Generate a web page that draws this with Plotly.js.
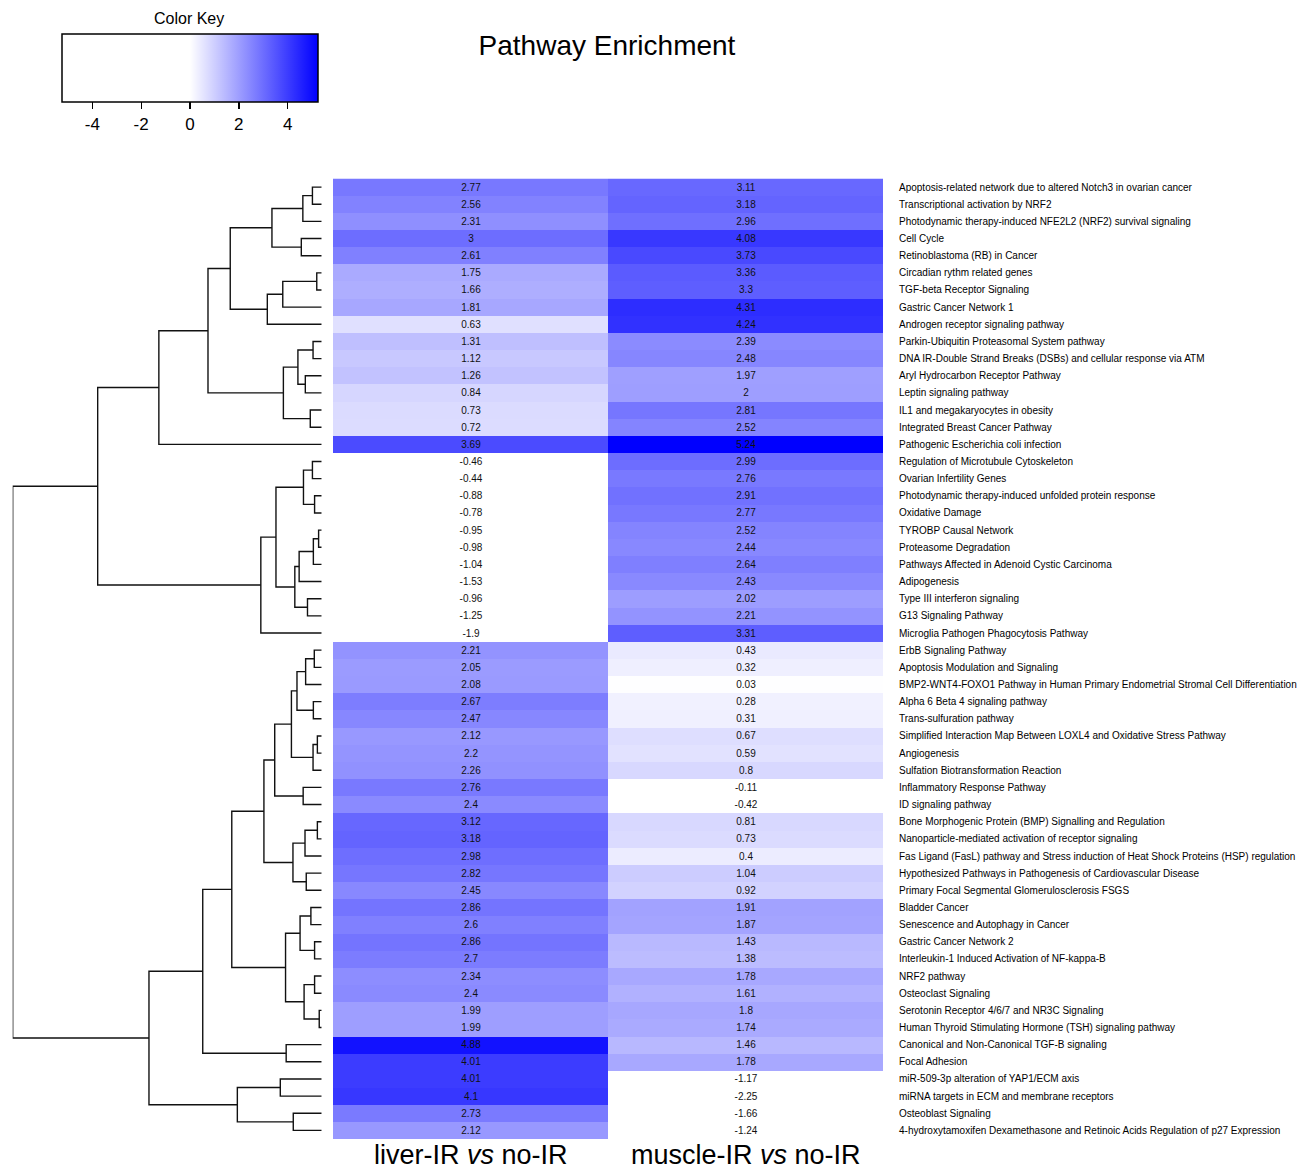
<!DOCTYPE html>
<html>
<head>
<meta charset="utf-8">
<script src="https://cdn.plot.ly/plotly-3.0.1.min.js"></script>
<style>html,body{margin:0;padding:0;background:#fff;}#chart{width:1311px;height:1173px;}</style>
</head>
<body>
<div id="chart"></div>
<script>
// ---- data ----
const pathways = [
  "Apoptosis-related network due to altered Notch3 in ovarian cancer",
  "Transcriptional activation by NRF2",
  "Photodynamic therapy-induced NFE2L2 (NRF2) survival signaling",
  "Cell Cycle",
  "Retinoblastoma (RB) in Cancer",
  "Circadian rythm related genes",
  "TGF-beta Receptor Signaling",
  "Gastric Cancer Network 1",
  "Androgen receptor signaling pathway",
  "Parkin-Ubiquitin Proteasomal System pathway",
  "DNA IR-Double Strand Breaks (DSBs) and cellular response via ATM",
  "Aryl Hydrocarbon Receptor Pathway",
  "Leptin signaling pathway",
  "IL1 and megakaryocytes in obesity",
  "Integrated Breast Cancer Pathway",
  "Pathogenic Escherichia coli infection",
  "Regulation of Microtubule Cytoskeleton",
  "Ovarian Infertility Genes",
  "Photodynamic therapy-induced unfolded protein response",
  "Oxidative Damage",
  "TYROBP Causal Network",
  "Proteasome Degradation",
  "Pathways Affected in Adenoid Cystic Carcinoma",
  "Adipogenesis",
  "Type III interferon signaling",
  "G13 Signaling Pathway",
  "Microglia Pathogen Phagocytosis Pathway",
  "ErbB Signaling Pathway",
  "Apoptosis Modulation and Signaling",
  "BMP2-WNT4-FOXO1 Pathway in Human Primary Endometrial Stromal Cell Differentiation",
  "Alpha 6 Beta 4 signaling pathway",
  "Trans-sulfuration pathway",
  "Simplified Interaction Map Between LOXL4 and Oxidative Stress Pathway",
  "Angiogenesis",
  "Sulfation Biotransformation Reaction",
  "Inflammatory Response Pathway",
  "ID signaling pathway",
  "Bone Morphogenic Protein (BMP) Signalling and Regulation",
  "Nanoparticle-mediated activation of receptor signaling",
  "Fas Ligand (FasL) pathway and Stress induction of Heat Shock Proteins (HSP) regulation",
  "Hypothesized Pathways in Pathogenesis of Cardiovascular Disease",
  "Primary Focal Segmental Glomerulosclerosis FSGS",
  "Bladder Cancer",
  "Senescence and Autophagy in Cancer",
  "Gastric Cancer Network 2",
  "Interleukin-1 Induced Activation of NF-kappa-B",
  "NRF2 pathway",
  "Osteoclast Signaling",
  "Serotonin Receptor 4/6/7 and NR3C Signaling",
  "Human Thyroid Stimulating Hormone (TSH) signaling pathway",
  "Canonical and Non-Canonical TGF-B signaling",
  "Focal Adhesion",
  "miR-509-3p alteration of YAP1/ECM axis",
  "miRNA targets in ECM and membrane receptors",
  "Osteoblast Signaling",
  "4-hydroxytamoxifen Dexamethasone and Retinoic Acids Regulation of p27 Expression"
];

const liverIR = [2.77, 2.56, 2.31, 3, 2.61, 1.75, 1.66, 1.81, 0.63, 1.31, 1.12, 1.26, 0.84, 0.73, 0.72, 3.69,
  -0.46, -0.44, -0.88, -0.78, -0.95, -0.98, -1.04, -1.53, -0.96, -1.25, -1.9,
  2.21, 2.05, 2.08, 2.67, 2.47, 2.12, 2.2, 2.26, 2.76, 2.4, 3.12, 3.18, 2.98, 2.82, 2.45,
  2.86, 2.6, 2.86, 2.7, 2.34, 2.4, 1.99, 1.99, 4.88, 4.01, 4.01, 4.1, 2.73, 2.12];

const muscleIR = [3.11, 3.18, 2.96, 4.08, 3.73, 3.36, 3.3, 4.31, 4.24, 2.39, 2.48, 1.97, 2, 2.81, 2.52, 5.24,
  2.99, 2.76, 2.91, 2.77, 2.52, 2.44, 2.64, 2.43, 2.02, 2.21, 3.31,
  0.43, 0.32, 0.03, 0.28, 0.31, 0.67, 0.59, 0.8, -0.11, -0.42, 0.81, 0.73, 0.4, 1.04, 0.92,
  1.91, 1.87, 1.43, 1.38, 1.78, 1.61, 1.8, 1.74, 1.46, 1.78, -1.17, -2.25, -1.66, -1.24];

const colLabels = ["liver-IR <i>vs</i> no-IR", "muscle-IR <i>vs</i> no-IR"];
const keyTicks = [-4, -2, 0, 2, 4];
const keyTickText = ["-4", "-2", "0", "2", "4"];
const keyLimit = 5.24;

// Row dendrogram (hclust-style merges: negative = leaf row -(i+1), positive = earlier merge number)
const mergeA = [-1, 1, -4, 2, -6, 5, 6, 4, -10, -12, 9, -14, 11, 8, 14,
  -17, -19, 16, -21, 19, 20, -25, 21, 18, 24, 15,
  -28, 27, -31, 28, -33, 31, 30, -36, 33, -38, 36, -41, 37, 35,
  -43, -45, 41, -47, -49, 44, 43, 40, -51, 48, -53, -55, 51, 50, 26];
const mergeB = [-2, -3, -5, 3, -7, -8, -9, 7, -11, -13, 10, -15, 12, 13, -16,
  -18, -20, 17, -22, -23, -24, -26, 22, 23, -27, 25,
  -29, -30, -32, 29, -34, -35, 32, -37, 34, -39, -40, -42, 38, 39,
  -44, -46, 42, -48, -50, 45, 46, 47, -52, 49, -54, -56, 52, 53, 54];
const mergeH = [0.30, 0.61, 0.66, 1.61, 0.16, 1.26, 1.76, 2.96, 0.28, 0.53, 0.77, 0.37, 1.24, 3.68, 5.27,
  0.30, 0.23, 0.59, 0.10, 0.27, 0.73, 0.46, 0.87, 1.48, 1.97, 7.25,
  0.24, 0.52, 0.27, 0.80, 0.14, 0.28, 0.98, 0.60, 1.52, 0.14, 0.54, 0.50, 0.93, 1.87,
  0.35, 0.23, 0.70, 0.23, 0.08, 0.57, 1.17, 2.91, 1.15, 3.85, 1.34, 0.92, 2.73, 5.59, 10.0];

// ---- build ----
const W = 1311, H = 1173;
const FONT = "Liberation Sans, Arial, Helvetica, sans-serif";
const rowIdx = pathways.map((_, i) => i);
const z = pathways.map((_, i) => [liverIR[i], muscleIR[i]]);
const txt = pathways.map((_, i) => [String(liverIR[i]), String(muscleIR[i])]);

// dendrogram segments
const nodes = [];
function info(id) { return id < 0 ? { y: -id - 1, h: 0 } : nodes[id - 1]; }
const dx = [], dy = [];
for (let k = 0; k < mergeH.length; k++) {
  const a = info(mergeA[k]), b = info(mergeB[k]), h = mergeH[k];
  dx.push(a.h, h, h, b.h, null);
  dy.push(a.y, a.y, b.y, b.y, null);
  nodes.push({ y: (a.y + b.y) / 2, h: h });
}
const rootH = Math.max(...mergeH);

const heat = {
  type: 'heatmap',
  x: [0, 1],
  y: rowIdx,
  z: z,
  text: txt,
  texttemplate: '%{text}',
  textfont: { family: FONT, size: 10, color: '#111' },
  zmin: -keyLimit, zmax: keyLimit,
  colorscale: [[0, '#ffffff'], [0.5, '#ffffff'], [1, '#0000ff']],
  xaxis: 'x', yaxis: 'y',
  hoverinfo: 'skip',
  colorbar: {
    orientation: 'h',
    xref: 'paper', yref: 'paper',
    x: 190 / W, xanchor: 'center',
    y: 1 - 33.7 / H, yanchor: 'top',
    len: 256, lenmode: 'pixels',
    thickness: 68, thicknessmode: 'pixels',
    xpad: 0, ypad: 0,
    outlinewidth: 1.5, outlinecolor: '#000',
    borderwidth: 0,
    tickvals: keyTicks, ticktext: keyTickText,
    ticks: 'outside', ticklen: 7, tickwidth: 1.3, tickcolor: '#000',
    tickfont: { family: FONT, size: 17, color: '#000' }
  }
};

const dendro = {
  type: 'scatter', mode: 'lines',
  x: dx, y: dy,
  xaxis: 'x2', yaxis: 'y',
  line: { color: '#111', width: 1.4 },
  hoverinfo: 'skip'
};

const colAnnotations = colLabels.map((t, i) => ({
  text: t, xref: 'x', yref: 'paper',
  x: i, y: 1 - 1155 / H, xanchor: 'center', yanchor: 'middle',
  showarrow: false, font: { family: FONT, size: 27, color: '#000' }
}));

const layout = {
  width: W, height: H,
  margin: { l: 0, r: 0, t: 0, b: 0, pad: 0 },
  paper_bgcolor: '#fff', plot_bgcolor: '#fff',
  showlegend: false,
  font: { family: FONT, color: '#000' },
  title: {
    text: 'Pathway Enrichment',
    x: 607 / W, xanchor: 'center', xref: 'paper',
    y: 1 - 45 / H, yanchor: 'middle', yref: 'paper',
    font: { family: FONT, size: 28, color: '#000' }
  },
  xaxis: {
    domain: [333 / W, 883 / W],
    range: [-0.5, 1.5],
    showticklabels: false,
    ticks: '', showgrid: false, zeroline: false, showline: false,
    fixedrange: true
  },
  yaxis: {
    domain: [1 - 1139 / H, 1 - 178.5 / H],
    range: [55.5, -0.5],
    tickvals: rowIdx, ticktext: pathways,
    side: 'right', ticks: '',
    showgrid: false, zeroline: false, showline: false,
    tickfont: { family: FONT, size: 10, color: '#000' },
    ticklabelstandoff: 15,
    automargin: false,
    fixedrange: true
  },
  xaxis2: {
    domain: [12.7 / W, 321.7 / W],
    range: [rootH, 0],
    anchor: 'y',
    visible: false,
    fixedrange: true
  },
  annotations: [{
    text: 'Color Key', xref: 'paper', yref: 'paper',
    x: 189 / W, y: 1 - 18 / H, xanchor: 'center', yanchor: 'middle',
    showarrow: false, font: { family: FONT, size: 16, color: '#000' }
  }].concat(colAnnotations)
};

Plotly.newPlot('chart', [heat, dendro], layout, { displayModeBar: false, staticPlot: true });
</script>
</body>
</html>
